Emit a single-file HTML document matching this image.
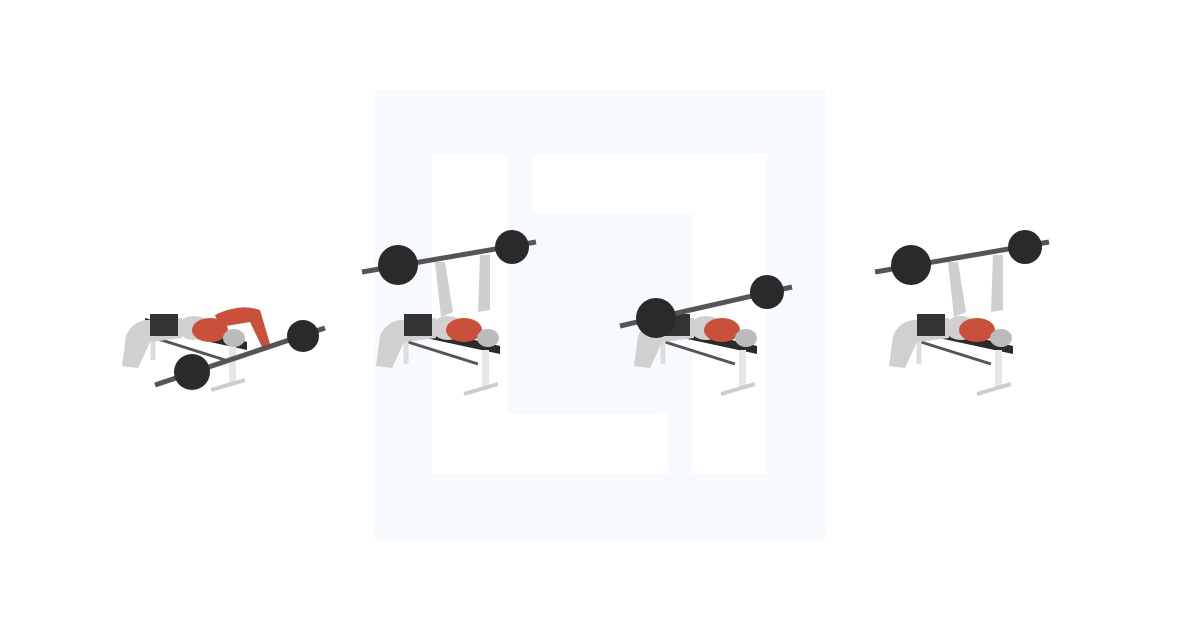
<!DOCTYPE html>
<html><head><meta charset="utf-8"><style>
html,body{margin:0;padding:0;background:#fff;width:1200px;height:630px;overflow:hidden;font-family:"Liberation Sans",sans-serif}
</style></head><body>
<svg width="1200" height="630" viewBox="0 0 1200 630">
<defs>
<g id="bench">
<polygon points="0,0 102,24 102,32 0,10" fill="#2b2b2b"/>
<line x1="10" y1="20" x2="80" y2="42" stroke="#555" stroke-width="3"/>
<rect x="84" y="28" width="7" height="38" fill="#e6e6e6"/>
<line x1="66" y1="72" x2="100" y2="62" stroke="#ccc" stroke-width="4"/>
<line x1="8" y1="12" x2="8" y2="42" stroke="#ddd" stroke-width="5"/>
</g>
<g id="body-lying">
<path d="M0,68 l4,-30 q6,-14 20,-16 l36,-2 0,20 -32,4 -12,26z" fill="#d0d0d0"/>
<rect x="28" y="16" width="28" height="22" fill="#333"/>
<ellipse cx="72" cy="30" rx="16" ry="12" fill="#d0d0d0"/>
<ellipse cx="88" cy="32" rx="18" ry="12" fill="#c9503a"/>
<ellipse cx="112" cy="40" rx="11" ry="9" fill="#bbb"/>
</g>
</defs>
<rect x="375" y="90" width="450" height="450" fill="#f6f9fe"/>
<g fill="#fff">
<rect x="432" y="154" width="76" height="320"/>
<rect x="432" y="413" width="236" height="61"/>
<rect x="532" y="154" width="235" height="60"/>
<rect x="692" y="154" width="75" height="320"/>
</g>
<g>
<use href="#bench" x="145" y="318"/>
<use href="#body-lying" x="122" y="298"/>
<path d="M215,315 q25,-12 45,-5 l10,34 -8,3 -12,-25 -30,5z" fill="#c9503a"/>
<line x1="155" y1="385" x2="325" y2="328" stroke="#555" stroke-width="5"/>
<circle cx="192" cy="372" r="18" fill="#2a2a2a"/>
<circle cx="303" cy="336" r="16" fill="#2a2a2a"/>
</g>
<g>
<use href="#bench" x="398" y="322"/>
<use href="#body-lying" x="376" y="298"/>
<path d="M435,262 l10,0 8,50 -12,5z M480,255 l10,0 0,55 -12,2z" fill="#cfcfcf"/>
<line x1="362" y1="272" x2="536" y2="242" stroke="#555" stroke-width="5"/>
<circle cx="398" cy="265" r="20" fill="#2a2a2a"/>
<circle cx="512" cy="247" r="17" fill="#2a2a2a"/>
</g>
<g>
<use href="#bench" x="655" y="322"/>
<use href="#body-lying" x="634" y="298"/>
<line x1="620" y1="326" x2="792" y2="287" stroke="#555" stroke-width="5"/>
<circle cx="656" cy="318" r="20" fill="#2a2a2a"/>
<circle cx="767" cy="292" r="17" fill="#2a2a2a"/>
</g>
<g>
<use href="#bench" x="911" y="322"/>
<use href="#body-lying" x="889" y="298"/>
<path d="M948,262 l10,0 8,50 -12,5z M993,255 l10,0 0,55 -12,2z" fill="#cfcfcf"/>
<line x1="875" y1="272" x2="1049" y2="242" stroke="#555" stroke-width="5"/>
<circle cx="911" cy="265" r="20" fill="#2a2a2a"/>
<circle cx="1025" cy="247" r="17" fill="#2a2a2a"/>
</g>
</svg>
</body></html>
